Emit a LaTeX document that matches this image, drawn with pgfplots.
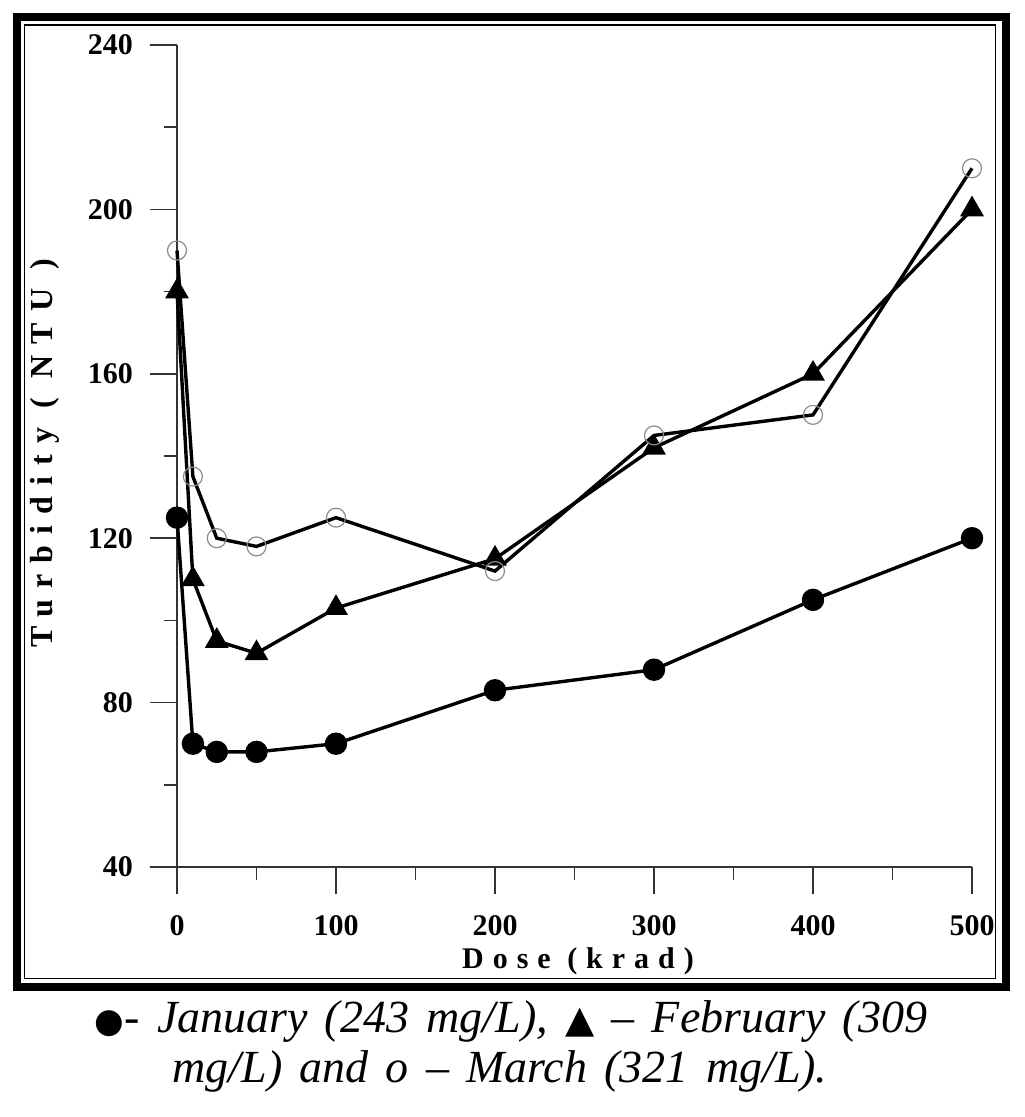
\documentclass[border=0pt]{standalone}
\usepackage{fontspec}
\setmainfont{Liberation Serif}
\newfontfamily\sym{DejaVu Sans}
\newfontfamily\capfont[WordSpace=1.5,Ligatures=TeX]{Liberation Serif}
\usepackage{pgfplots}
\pgfplotsset{compat=1.18}
\begin{document}
\begin{tikzpicture}
\begin{scope}[x=0.5pt,y=0.5pt]
\useasboundingbox (0,0) rectangle (1024,1117);
\draw[line width=4pt] (17,1100) rectangle (1006,130);
\draw[line width=0.75pt] (24.5,1092) rectangle (995.5,138.5);
\node[font=\bfseries\fontsize{15}{18}\selectfont\addfontfeature{LetterSpace=30}] at (578,156) {Dose (krad)};
\node[rotate=90, font=\bfseries\fontsize{16}{18}\selectfont\addfontfeature{LetterSpace=35}] at (45,664) {Turbidity ( NTU )};
\node[anchor=base, font=\capfont\itshape\fontsize{23}{25}\selectfont, inner sep=0pt] at (511,84) {{\sym\upshape\fontsize{17}{20}\selectfont ●}- January (243 mg/L), {\sym\upshape\fontsize{19}{20}\selectfont ▲} – February (309};
\node[anchor=base, font=\capfont\itshape\fontsize{23}{25}\selectfont, inner sep=0pt] at (500,34) {mg/L) and o – March (321 mg/L).};
\end{scope}
\begin{axis}[
  at={(88.5pt,125pt)}, anchor=south west,
  scale only axis, width=397.5pt, height=411pt,
  xmin=0, xmax=500, ymin=40, ymax=240,
  clip=false,
  axis lines=left,
  axis line style={-, line width=0.8pt, black!80},
  xtick={0,100,...,500}, ytick={40,80,...,240},
  minor xtick={50,150,...,450}, minor ytick={60,100,...,220},
  tick align=outside,
  major tick length=13.5pt, minor tick length=6.5pt,
  every tick/.style={line width=0.8pt, black!80},
  tick label style={font=\bfseries\fontsize{15}{18}\selectfont},
  /pgf/number format/assume math mode=true,
  xticklabel style={yshift=-7pt},
  yticklabel style={xshift=-5pt},
]
\addplot[black, line width=1.7pt, mark=*, mark size=4.75pt, mark options={solid}] coordinates {
(0,125) (10,70) (25,68) (50,68) (100,70) (200,83) (300,88) (400,105) (500,120)};
\addplot[black, line width=1.7pt, mark=triangle*, mark size=5.2pt, mark options={solid}] coordinates {
(0,180) (10,110) (25,95) (50,92) (100,103) (200,115) (300,142) (400,160) (500,200)};
\addplot[black, line width=1.7pt, mark=o, mark size=4.75pt, mark options={solid, draw=black!45, line width=0.6pt}] coordinates {
(0,190) (10,135) (25,120) (50,118) (100,125) (200,112) (300,145) (400,150) (500,210)};
\end{axis}
\end{tikzpicture}
\end{document}
